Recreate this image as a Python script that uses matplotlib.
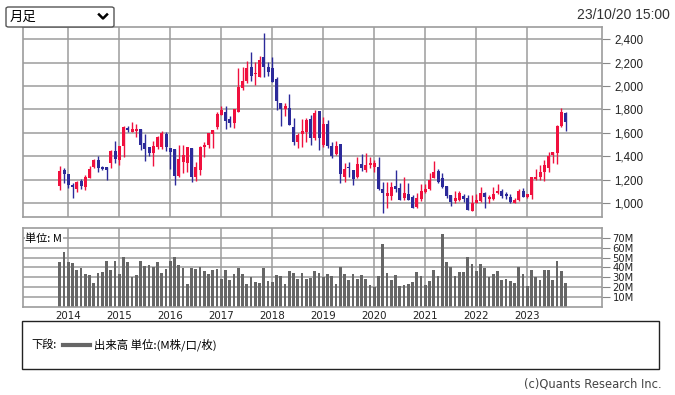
import numpy as np
import pandas as pd
import matplotlib
matplotlib.use('Agg')
import matplotlib.pyplot as plt
from matplotlib.lines import Line2D
from matplotlib.patches import FancyBboxPatch, Rectangle

plt.rcParams['font.family'] = ['DejaVu Sans', 'Noto Sans CJK JP']

# monthly candles, Nov 2013 - Oct 2023
months = pd.date_range('2013-11-01', periods=120, freq='MS')

opens = [1148, 1282, 1248, 1154, 1120, 1188, 1140, 1217, 1305, 1367,
         1305, 1305, 1339, 1444, 1367, 1484, 1638, 1610, 1612, 1633,
         1510, 1476, 1430, 1476, 1480, 1590, 1473, 1462, 1234, 1353,
         1339, 1473, 1219, 1282, 1481, 1496, 1590, 1652, 1752, 1775,
         1718, 1687, 1781, 1986, 2043, 2165, 2100, 2080, 2245, 2165,
         2157, 2060, 1852, 1804, 1809, 1652, 1519, 1590, 1610, 1715,
         1553, 1786, 1496, 1672, 1487, 1419, 1504, 1225, 1311, 1282,
         1219, 1333, 1282, 1322, 1305, 1308, 1117, 1060, 1060, 1145,
         1125, 1040, 1077, 1054, 969, 1034, 1097, 1120, 1216, 1274,
         1211, 1145, 1068, 1017, 1026, 1060, 1040, 934, 1003, 1020,
         1083, 1037, 1031, 1088, 1105, 1077, 1048, 1003, 1026, 1105,
         1054, 1071, 1205, 1219, 1268, 1296, 1410, 1424, 1658, 1766]
highs = [1316, 1296, 1250, 1168, 1188, 1205, 1239, 1316, 1379, 1402,
         1313, 1305, 1453, 1529, 1487, 1655, 1658, 1689, 1672, 1633,
         1587, 1476, 1529, 1575, 1620, 1610, 1473, 1462, 1496, 1496,
         1481, 1473, 1353, 1487, 1524, 1601, 1624, 1781, 1829, 1829,
         1744, 1800, 2151, 2165, 2214, 2293, 2208, 2259, 2456, 2202,
         2251, 2080, 1852, 1858, 1932, 1724, 1601, 1715, 1724, 1752,
         1795, 1786, 1738, 1709, 1524, 1530, 1504, 1339, 1353, 1282,
         1396, 1419, 1424, 1396, 1367, 1396, 1182, 1182, 1182, 1282,
         1168, 1225, 1168, 1068, 1083, 1162, 1162, 1254, 1359, 1291,
         1259, 1145, 1068, 1105, 1103, 1077, 1068, 1068, 1074, 1134,
         1097, 1068, 1134, 1162, 1117, 1094, 1077, 1040, 1117, 1125,
         1077, 1225, 1291, 1325, 1367, 1439, 1439, 1667, 1809, 1781]
lows = [1111, 1168, 1130, 1046, 1097, 1117, 1111, 1211, 1299, 1268,
        1282, 1197, 1299, 1345, 1322, 1396, 1604, 1604, 1567, 1456,
        1362, 1405, 1319, 1462, 1460, 1447, 1288, 1154, 1225, 1254,
        1268, 1182, 1191, 1239, 1396, 1473, 1467, 1632, 1752, 1630,
        1647, 1644, 1781, 1966, 2028, 2046, 2008, 2080, 2080, 2085,
        2037, 1795, 1661, 1746, 1667, 1496, 1467, 1481, 1524, 1496,
        1538, 1453, 1476, 1467, 1382, 1410, 1174, 1182, 1225, 1154,
        1211, 1276, 1268, 1296, 1268, 1111, 917, 954, 1026, 1097,
        1026, 1026, 1026, 954, 954, 1020, 1088, 1111, 1211, 1168,
        1125, 1040, 974, 1003, 1020, 1011, 940, 934, 1000, 1011,
        954, 997, 1026, 1074, 1040, 1034, 1003, 1003, 1020, 1048,
        1040, 1031, 1197, 1197, 1191, 1268, 1339, 1330, 1652, 1618]
closes = [1273, 1251, 1154, 1140, 1177, 1148, 1222, 1290, 1367, 1299,
          1291, 1282, 1444, 1376, 1487, 1650, 1627, 1633, 1633, 1499,
          1464, 1427, 1487, 1561, 1600, 1476, 1439, 1234, 1376, 1410,
          1481, 1219, 1311, 1481, 1496, 1601, 1624, 1761, 1795, 1704,
          1687, 1800, 1994, 2046, 2157, 2088, 2108, 2222, 2160, 2123,
          2037, 1875, 1804, 1829, 1667, 1524, 1581, 1618, 1709, 1553,
          1766, 1553, 1672, 1487, 1402, 1487, 1245, 1291, 1296, 1205,
          1333, 1296, 1328, 1339, 1345, 1117, 1088, 1088, 1134, 1120,
          1026, 1088, 1026, 960, 1040, 1105, 1120, 1197, 1268, 1182,
          1134, 1063, 1011, 1040, 1088, 1031, 940, 1003, 1026, 1083,
          1054, 1048, 1077, 1105, 1060, 1063, 1011, 1026, 1103, 1054,
          1077, 1219, 1219, 1268, 1325, 1402, 1439, 1658, 1775, 1695]

# volume in millions
volumes = [45.5, 56, 45.5, 44.4, 37.4, 39.4, 33.3, 32.3, 24.2, 34.3,
           35.4, 46.5, 37.4, 46.5, 33.3, 50.5, 45.5, 30.3, 32.3, 46.5,
           41.4, 42.4, 40.4, 45.5, 34.3, 38.4, 46.5, 50.5, 42.4, 39.4,
           23.2, 39.4, 38.4, 40.4, 36.4, 33.3, 37.4, 38.4, 28.3, 37.4,
           27.3, 33.3, 39.4, 33.3, 23.2, 30.3, 25.3, 24.2, 39.4, 26.3,
           25.3, 32.3, 31.3, 23.2, 36.4, 34.3, 28.3, 34, 28.3, 29.3,
           36.4, 34, 30, 33, 31, 23.2, 40.4, 33, 27.3, 33,
           28.3, 32, 28.3, 22.2, 20.2, 31, 63.6, 34, 27.3, 32,
           20.9, 22.2, 22.9, 24.9, 35, 31, 22.2, 26.3, 37, 31,
           73.4, 45, 40.4, 31, 35, 35, 50.5, 43, 36.4, 43,
           39.7, 30, 33, 36, 27.3, 28.3, 26.3, 24.2, 40.4, 33,
           20.9, 37, 30, 27.3, 37, 37, 27.3, 46.5, 36, 24.2]

years = list(range(2014, 2024))
price_ticks = [1000, 1200, 1400, 1600, 1800, 2000, 2200, 2400]
vol_ticks = [10, 20, 30, 40, 50, 60, 70]

RED = '#f0103e'
BLUE = '#2c2a9a'
GRID = '#9c9c9c'

W, H = 675, 395
fig = plt.figure(figsize=(W / 100, H / 100), dpi=100)

def fx(px):
    return px / W

def fy(py):
    return 1 - py / H

# x as month offset from Jan 2014
x = np.array([(d.year - 2014) * 12 + d.month - 1 for d in months])
year_x = [(y - 2014) * 12 for y in years]
xlim = (-10.78, 125.46)

o = np.array(opens); h = np.array(highs); l = np.array(lows); c = np.array(closes)
up = c >= o

ax = fig.add_axes([fx(22.5), fy(216.7), fx(579), 189.4 / H])
ax.set_xlim(*xlim)
ax.set_ylim(883, 2503)
for yv in price_ticks:
    ax.axhline(yv, color=GRID, lw=1.1, zorder=0)
for xv in year_x:
    ax.axvline(xv, color=GRID, lw=1.1, zorder=0)
cols = np.where(up, RED, BLUE)
ax.vlines(x, l, h, colors=cols, lw=1, zorder=2)
body_bot = np.minimum(o, c)
body_h = np.maximum(np.abs(c - o), 8)
ax.bar(x, body_h, bottom=body_bot, width=0.72, color=cols, lw=0, zorder=3)
ax.set_yticks(price_ticks)
ax.set_yticklabels(['{:,}'.format(v) for v in price_ticks])
ax.yaxis.tick_right()
ax.tick_params(axis='y', length=6, color='#888888', labelsize=8.3, pad=3, labelcolor='#222222')
for t in ax.get_yticklabels():
    t.set_family('Liberation Sans')
ax.set_xticks([])
for s in ax.spines.values():
    s.set_color(GRID)
    s.set_linewidth(1.2)

# volume panel
av = fig.add_axes([fx(22.5), fy(307), fx(579), 78.7 / H])
av.set_xlim(*xlim)
av.set_ylim(0, 79.5)
for yv in vol_ticks:
    av.axhline(yv, color=GRID, lw=1.1, zorder=0)
for xv in year_x:
    av.axvline(xv, color=GRID, lw=1.1, zorder=0)
av.bar(x, volumes, width=0.65, color='#666666', lw=0, zorder=2)
av.set_yticks(vol_ticks)
av.set_yticklabels(['%dM' % v for v in vol_ticks])
av.yaxis.tick_right()
av.tick_params(axis='y', length=6, color='#888888', labelsize=7.2, pad=2, labelcolor='#222222')
av.set_xticks(year_x)
av.set_xticklabels([str(y) for y in years])
av.tick_params(axis='x', length=0, labelsize=7.4, pad=3, labelcolor='#222222')
for s in av.spines.values():
    s.set_color(GRID)
    s.set_linewidth(1.2)
av.text(0.005, 0.94, '単位: M', transform=av.transAxes, fontsize=8,
        family=['Noto Sans CJK JP', 'DejaVu Sans'], va='top', ha='left',
        bbox=dict(facecolor='white', edgecolor='none', pad=0.5), zorder=5)

# dropdown
fig.patches.append(FancyBboxPatch((fx(6), fy(27)), fx(108), 20 / H,
                                  boxstyle='round,pad=0,rounding_size=0.004',
                                  transform=fig.transFigure, facecolor='white',
                                  edgecolor='#555555', lw=1))
fig.text(fx(10), fy(17), '月足', fontsize=9.6, family=['Noto Sans CJK JP'], va='center', ha='left')
fig.lines.append(Line2D([fx(99), fx(103), fx(107)], [fy(14.5), fy(18.5), fy(14.5)],
                        transform=fig.transFigure, color='black', lw=1.8))
fig.text(fx(670), fy(15), '23/10/20 15:00', fontsize=10, family='Liberation Sans',
         color='#333333', va='center', ha='right')

# legend box
fig.patches.append(Rectangle((fx(22), fy(369)), fx(637), 48 / H, transform=fig.transFigure,
                             facecolor='white', edgecolor='#222222', lw=1))
fig.text(fx(31), fy(345), '下段:', fontsize=8, family=['Noto Sans CJK JP'], va='center', ha='left')
fig.lines.append(Line2D([fx(63), fx(90)], [fy(345), fy(345)], transform=fig.transFigure,
                        color='#666666', lw=3))
fig.text(fx(94), fy(345), '出来高 単位:(M株/口/枚)', fontsize=8.2,
         family=['Noto Sans CJK JP'], va='center', ha='left')
fig.text(fx(662), fy(384), '(c)Quants Research Inc.', fontsize=8.3,
         family='DejaVu Sans', color='#444444', va='center', ha='right')

fig.savefig('out.png', dpi=100)
